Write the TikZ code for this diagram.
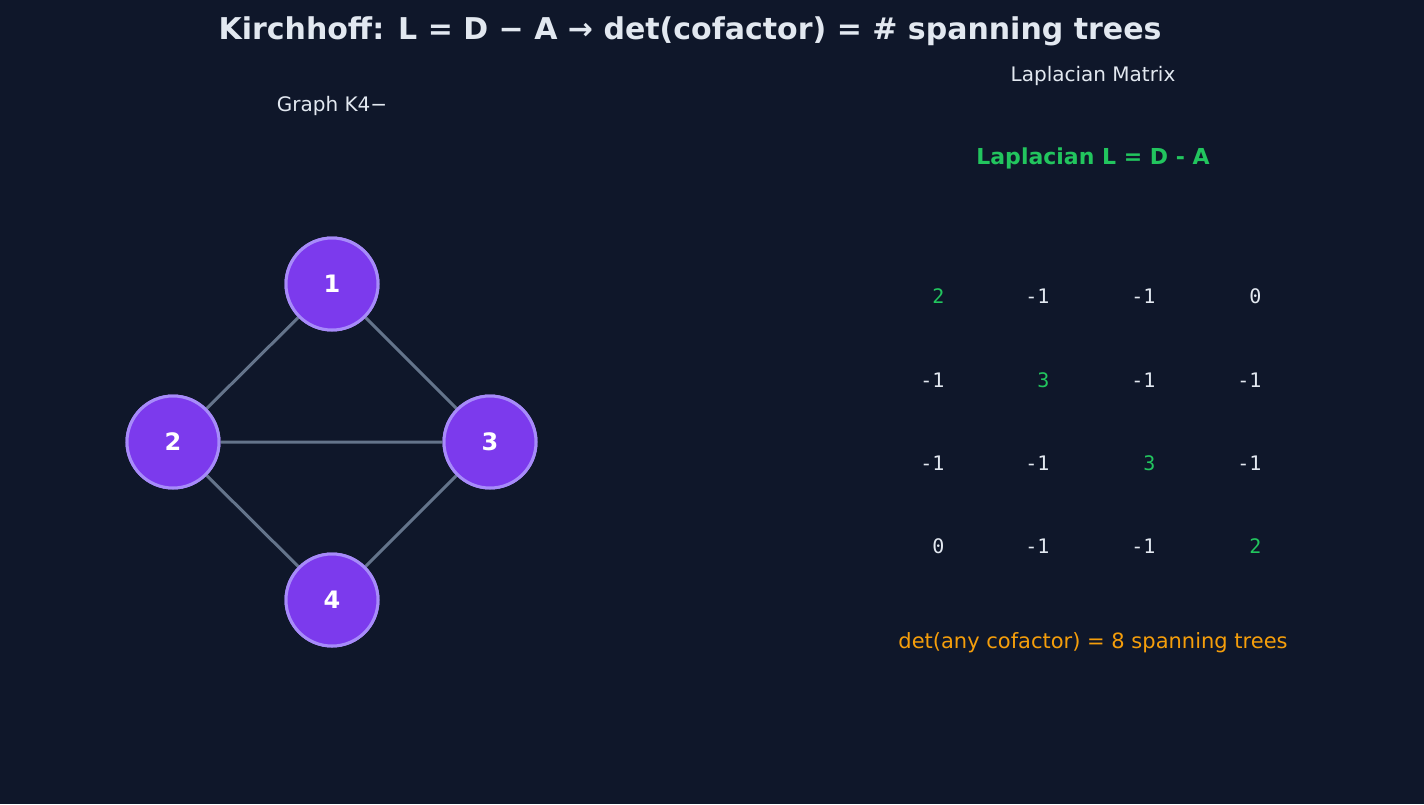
\documentclass[tikz,border=0pt]{standalone}
\usepackage{fontspec}
\setmainfont{DejaVu Sans}
\setmonofont{DejaVu Sans Mono}
\definecolor{bg}{HTML}{0F172A}
\definecolor{txt}{HTML}{E2E8F0}
\definecolor{grn}{HTML}{22C55E}
\definecolor{org}{HTML}{F59E0B}
\definecolor{vfill}{HTML}{7C3AED}
\definecolor{vline}{HTML}{A78BFA}
\definecolor{edge}{HTML}{64748B}
\begin{document}
\begin{tikzpicture}[x=1pt,y=-1pt,
  vert/.style={circle,fill=vfill,draw=vline,line width=3pt,minimum size=92pt,inner sep=0pt,text=white,font=\fontsize{24}{28}\selectfont\bfseries},
  conn/.style={draw=edge,line width=3pt},
  num/.style={anchor=base east,font=\ttfamily\fontsize{20}{24}\selectfont,text=txt},
  dg/.style={num,text=grn}]
\fill[bg] (0,0) rectangle (1424,804);
\useasboundingbox (0,0) rectangle (1424,804);
\node[text=txt,font=\fontsize{30}{36}\selectfont\bfseries] (title) at (690,31) {Kirchhoff: L = D − A → det(cofactor) = \# spanning trees};
\node[text=txt,font=\fontsize{20}{24}\selectfont] (gl) at (332,106) {Graph K4−};
\node[text=txt,font=\fontsize{20}{24}\selectfont] (ml) at (1093,76) {Laplacian Matrix};
\node[text=grn,font=\fontsize{22}{26}\selectfont\bfseries] (lt) at (1093,158) {Laplacian L = D - A};
\node[vert] (n1) at (332,284) {1};
\node[vert] (n2) at (173,442) {2};
\node[vert] (n3) at (490,442) {3};
\node[vert] (n4) at (332,600) {4};
\begin{scope}[on background layer/.try]
\end{scope}
\path[conn] (n1) -- (n2) (n1) -- (n3) (n2) -- (n3) (n2) -- (n4) (n3) -- (n4);
\node[vert] at (n1) {1};
\node[vert] at (n2) {2};
\node[vert] at (n3) {3};
\node[vert] at (n4) {4};
\node[dg] (a11) at (948,303) {2};
\node[num] (a12) at (1053,303) {-1};
\node[num] (a13) at (1159,303) {-1};
\node[num] (a14) at (1265,303) {0};
\node[num] (a21) at (948,387) {-1};
\node[dg] (a22) at (1053,387) {3};
\node[num] (a23) at (1159,387) {-1};
\node[num] (a24) at (1265,387) {-1};
\node[num] (a31) at (948,470) {-1};
\node[num] (a32) at (1053,470) {-1};
\node[dg] (a33) at (1159,470) {3};
\node[num] (a34) at (1265,470) {-1};
\node[num] (a41) at (948,553) {0};
\node[num] (a42) at (1053,553) {-1};
\node[num] (a43) at (1159,553) {-1};
\node[dg] (a44) at (1265,553) {2};
\node[text=org,font=\fontsize{21}{25}\selectfont] (det) at (1093,643) {det(any cofactor) = 8 spanning trees};
\end{tikzpicture}
\end{document}
